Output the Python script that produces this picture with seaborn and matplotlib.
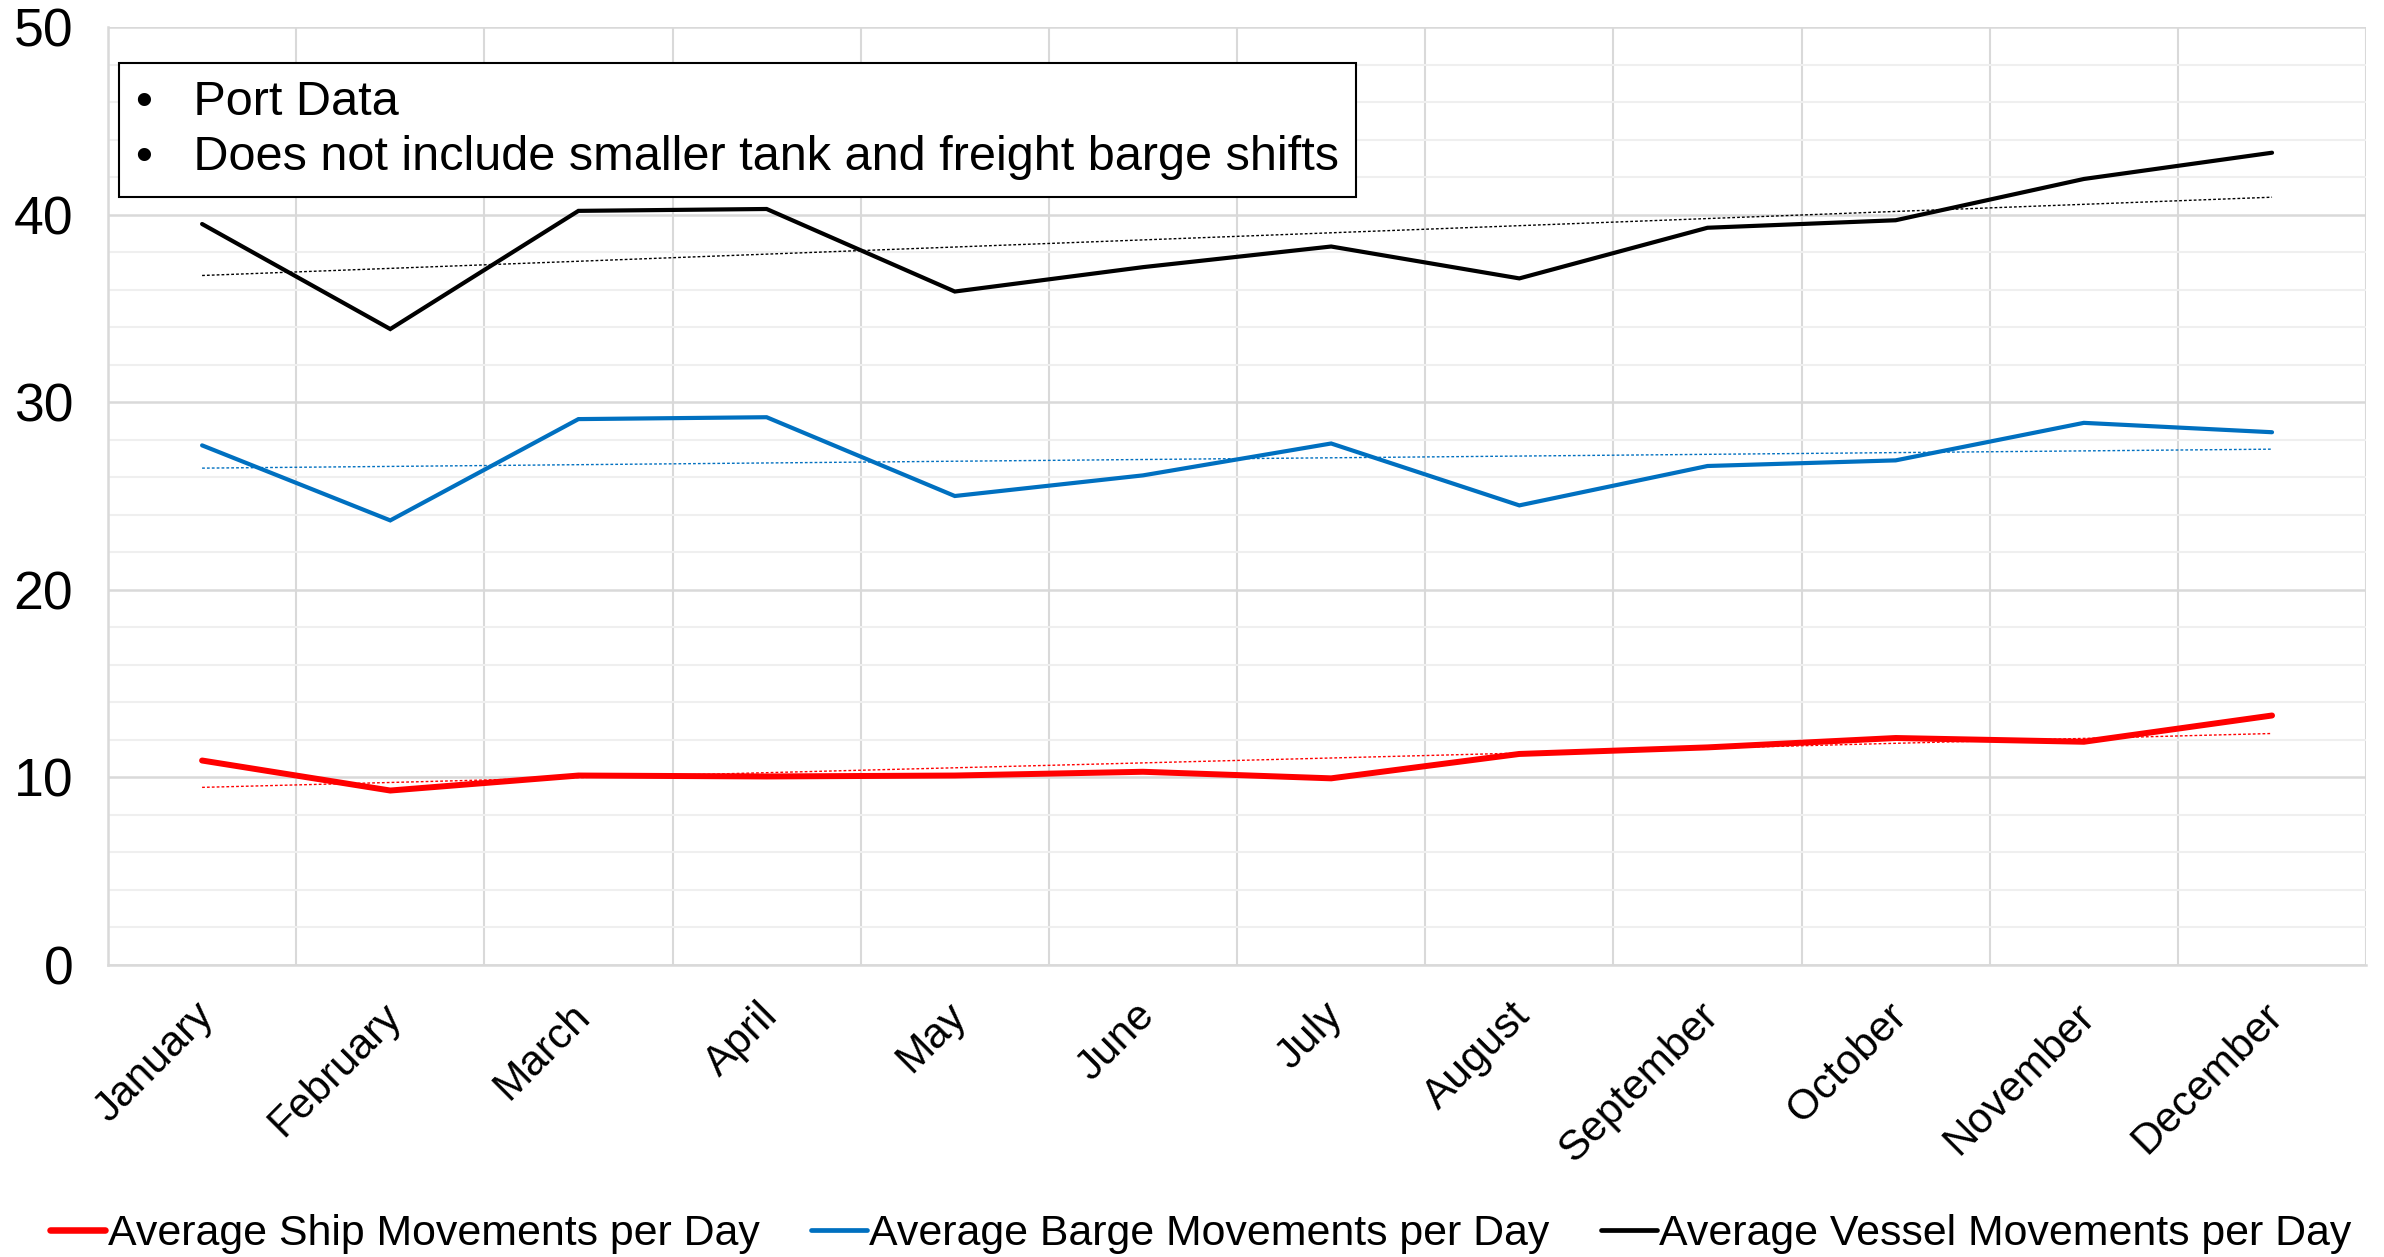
import numpy as np
import pandas as pd
import matplotlib.pyplot as plt
import matplotlib.transforms as mtrans
import seaborn as sns

months = ['January', 'February', 'March', 'April', 'May', 'June', 'July',
          'August', 'September', 'October', 'November', 'December']
ship = [10.9, 9.3, 10.1, 10.05, 10.1, 10.3, 9.95, 11.25, 11.6, 12.1, 11.9, 13.3]
barge = [27.7, 23.7, 29.1, 29.2, 25.0, 26.1, 27.8, 24.5, 26.6, 26.9, 28.9, 28.4]
vessel = [39.5, 33.9, 40.2, 40.3, 35.9, 37.2, 38.3, 36.6, 39.3, 39.7, 41.9, 43.3]

series_names = ['Average Ship Movements per Day',
                'Average Barge Movements per Day',
                'Average Vessel Movements per Day']
colors = {series_names[0]: '#ff0000', series_names[1]: '#0070c0', series_names[2]: '#000000'}
widths = {series_names[0]: 4.3, series_names[1]: 3.0, series_names[2]: 3.0}

df = pd.DataFrame({
    'Month': months * 3,
    'x': list(range(len(months))) * 3,
    'Value': ship + barge + vessel,
    'Series': [series_names[0]] * 12 + [series_names[1]] * 12 + [series_names[2]] * 12,
})

sns.set_theme(style='white')
plt.rcParams['font.family'] = ['Liberation Sans', 'DejaVu Sans']
plt.rcParams['text.color'] = 'black'
plt.rcParams['xtick.color'] = 'black'
plt.rcParams['ytick.color'] = 'black'

fig, ax = plt.subplots(figsize=(23.84, 12.57), dpi=100)
fig.subplots_adjust(left=0.0453, right=0.9925, top=0.9785, bottom=0.2323)

sns.lineplot(data=df, x='x', y='Value', hue='Series', palette=colors,
             hue_order=series_names, ax=ax, legend=False)
for line, name in zip(ax.get_lines(), series_names):
    line.set_linewidth(widths[name])
    line.set_solid_joinstyle('miter')

# linear trend lines
xs = np.arange(len(months))
for name, vals in zip(series_names, [ship, barge, vessel]):
    k, b = np.polyfit(xs, vals, 1)
    ax.plot(xs, k * xs + b, color=colors[name], lw=1.0, ls=(0, (2, 1.5)), zorder=2)

ax.set_xlim(-0.5, len(months) - 0.5)
ax.set_ylim(0, 50)
ax.set_yticks(range(0, 51, 10))
ax.set_yticks(range(0, 51, 2), minor=True)
ax.set_xticks(xs)
ax.set_xticklabels(months, rotation=45, ha='right', rotation_mode='anchor', fontsize=30.5)
ax.set_xticks(np.arange(-0.5, len(months), 1), minor=True)
ax.tick_params(axis='y', labelsize=38.5, length=0, pad=25)
ax.tick_params(axis='x', length=0, pad=22, which='both')
ax.tick_params(which='minor', length=0)
ax.set_xlabel('')
ax.set_ylabel('')
shift = mtrans.ScaledTranslation(-9 / 100, 0, fig.dpi_scale_trans)
for lbl in ax.get_xticklabels():
    lbl.set_transform(lbl.get_transform() + shift)

ax.grid(which='minor', axis='y', color='#efefef', lw=1.5)
ax.grid(which='major', axis='y', color='#d9d9d9', lw=1.8)
ax.grid(which='minor', axis='x', color='#d9d9d9', lw=1.5)
ax.set_axisbelow(True)
for side in ['top', 'right']:
    ax.spines[side].set_visible(False)
for side in ['left', 'bottom']:
    ax.spines[side].set_color('#d9d9d9')
    ax.spines[side].set_linewidth(1.8)

ax.text(0.0125, 0.944, '\u2022   Port Data\n\u2022   Does not include smaller tank and freight barge shifts',
        transform=ax.transAxes, fontsize=35, va='top', ha='left', linespacing=1.3,
        bbox=dict(boxstyle='square,pad=0.35', facecolor='white', edgecolor='black', lw=1.5))

handles = [plt.Line2D([], [], color=colors[n], lw=widths[n] + 0.4) for n in series_names]
fig.legend(handles, series_names, loc='lower center', ncol=3, frameon=False,
           fontsize=30.9, handlelength=1.3, handletextpad=0.05, columnspacing=1.2,
           bbox_to_anchor=(0.5035, -0.028))

fig.savefig('out.png', dpi=100)
